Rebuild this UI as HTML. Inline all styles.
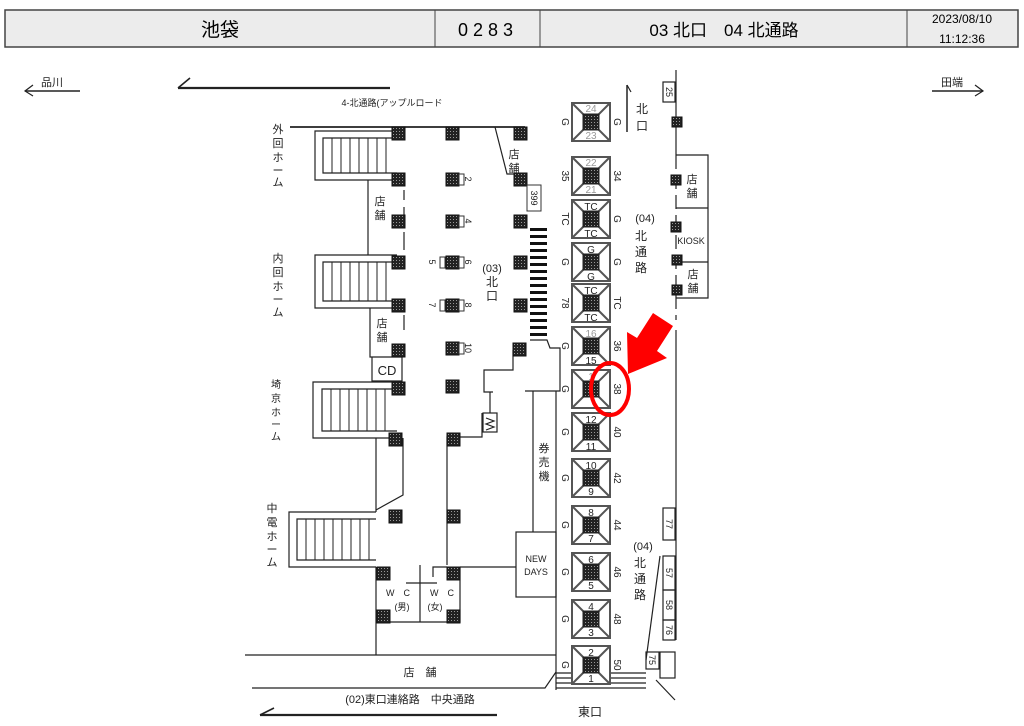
<!DOCTYPE html>
<html><head><meta charset="utf-8"><style>
html,body{margin:0;padding:0;background:#fff;}
svg{display:block;font-family:"Liberation Sans","Noto Sans CJK JP",sans-serif;}
</style></head><body>
<svg width="1024" height="726" viewBox="0 0 1024 726" xmlns="http://www.w3.org/2000/svg">
<defs>
<pattern id="dots" width="3" height="3" patternUnits="userSpaceOnUse">
<rect width="3" height="3" fill="#222"/><rect x="1" y="1" width="1" height="1" fill="#999"/>
</pattern>
<g id="t"><rect width="13" height="13" fill="url(#dots)" stroke="#111" stroke-width="1"/></g>
<g id="ts"><rect width="10" height="10" fill="url(#dots)" stroke="#111" stroke-width="1"/></g>
<g id="esc">
<rect x="0" y="0" width="38" height="38" fill="#fff" stroke="#555" stroke-width="2"/>
<line x1="0" y1="0" x2="38" y2="38" stroke="#555" stroke-width="2"/>
<line x1="38" y1="0" x2="0" y2="38" stroke="#555" stroke-width="2"/>
<rect x="11" y="11" width="16" height="16" fill="url(#dots)" stroke="#222"/>
</g>
</defs>

<rect x="5" y="10" width="1013" height="37" fill="#ececec" stroke="#444" stroke-width="1.5"/>
<line x1="435" y1="10" x2="435" y2="47" stroke="#444"/>
<line x1="540" y1="10" x2="540" y2="47" stroke="#444"/>
<line x1="907" y1="10" x2="907" y2="47" stroke="#444"/>
<text x="220" y="36" font-size="19" text-anchor="middle">池袋</text>
<text x="488" y="36" font-size="18" text-anchor="middle" letter-spacing="5">0283</text>
<text x="724" y="36" font-size="17" text-anchor="middle">03 北口　04 北通路</text>
<text x="962" y="23" font-size="12" text-anchor="middle">2023/08/10</text>
<text x="962" y="43" font-size="12" text-anchor="middle">11:12:36</text>

<g stroke="#222" fill="none" stroke-width="1.2">
<line x1="25" y1="91" x2="80" y2="91" stroke-width="1.6"/><polyline points="33,85 25,91 33,96"/>
<line x1="932" y1="91" x2="983" y2="91" stroke-width="1.6"/><polyline points="975,85 983,91 975,96"/>
<line x1="178" y1="88" x2="390" y2="88" stroke-width="2.2"/><line x1="178" y1="88" x2="190" y2="78" stroke-width="1.6"/>
<line x1="260" y1="715" x2="497" y2="715" stroke-width="2.2"/><line x1="260" y1="715" x2="274" y2="708" stroke-width="1.6"/>

<line x1="290" y1="127" x2="525" y2="127" stroke-width="1.8"/>
<polyline points="495,127 507,174 522,174"/>

<polyline points="397,131 315,131 315,180 397,180"/>
<polyline points="397,138 323,138 323,173 397,173"/>
<polyline points="397,255 315,255 315,308 397,308"/>
<polyline points="397,262 323,262 323,301 397,301"/>
<polyline points="397,382 313,382 313,438 397,438"/>
<polyline points="397,389 322,389 322,431 397,431"/>
<polyline points="376,512 289,512 289,567 376,567"/>
<polyline points="376,519 297,519 297,560 376,560"/>
</g>
<g stroke="#222" stroke-width="1">
<path d="M332 138V173M341 138V173M350 138V173M359 138V173M368 138V173M377 138V173M386 138V173"/>
<path d="M332 262V301M341 262V301M350 262V301M359 262V301M368 262V301M377 262V301M386 262V301"/>
<path d="M331 389V431M340 389V431M349 389V431M358 389V431M367 389V431M376 389V431M385 389V431"/>
<path d="M306 519V560M315 519V560M324 519V560M333 519V560M342 519V560M351 519V560M360 519V560M369 519V560"/>
</g>
<g stroke="#222" fill="none" stroke-width="1.2">
<line x1="368" y1="180" x2="368" y2="255"/>
<polyline points="370,308 370,357 402,357 402,381 372,381 372,357"/>
<path d="M404 190V200M404 207V225M404 232V250"/>
<path d="M404 315V330"/>
<polyline points="403,438 403,495 376,510"/>
<line x1="376" y1="438" x2="376" y2="512"/>
<line x1="376" y1="567" x2="376" y2="655"/>
<polyline points="376,622 460,622 460,567"/>
<line x1="420" y1="565" x2="420" y2="622"/>
<line x1="406" y1="583" x2="437" y2="583"/>
<polyline points="433,577 433,567 447,567"/>
<polyline points="447,565 447,437 482,437 482,413"/>
<line x1="460" y1="567" x2="516" y2="567"/>
<polyline points="513,350 513,370 484,370 484,392 493,392"/>
<line x1="490" y1="392" x2="490" y2="413"/>
<rect x="483" y="413" width="14" height="19"/>
<path d="M486 418l8 3-8 3 8 3-8 3"/>
<polyline points="530,340 547,340 550,348 560,348 560,391 525,391"/>
<line x1="533" y1="391" x2="533" y2="532"/>
<rect x="516" y="532" width="40" height="65"/>
<line x1="556" y1="391" x2="556" y2="690"/>
<line x1="627" y1="85" x2="627" y2="132" stroke-width="1.5"/><line x1="627" y1="85" x2="631" y2="92"/>
<line x1="676" y1="70" x2="676" y2="155"/>
<line x1="676" y1="155" x2="676" y2="320" stroke-dasharray="14,6"/>
<line x1="676" y1="330" x2="676" y2="640"/>
<polyline points="676,155 708,155 708,298 676,298"/>
<line x1="676" y1="208" x2="708" y2="208"/>
<line x1="676" y1="262" x2="708" y2="262"/>
<rect x="663" y="82" width="12" height="20" />
<rect x="663" y="508" width="12" height="32"/>
<rect x="663" y="556" width="12" height="34"/>
<rect x="663" y="590" width="12" height="30"/>
<rect x="663" y="620" width="12" height="20"/>
<line x1="660" y1="556" x2="646" y2="660"/>
<rect x="646" y="652" width="13" height="17"/>
<rect x="660" y="652" width="15" height="26"/>
<line x1="656" y1="680" x2="675" y2="700"/>
<line x1="245" y1="655" x2="556" y2="655"/>
<polyline points="252,688 545,688 556,672"/>
<path d="M556 673H646M556 678H646M556 683H646M556 688H646"/>
</g>

<g fill="#111">
<rect x="530" y="228" width="17" height="3"/><rect x="530" y="235" width="17" height="3"/><rect x="530" y="242" width="17" height="3"/><rect x="530" y="249" width="17" height="3"/><rect x="530" y="256" width="17" height="3"/><rect x="530" y="263" width="17" height="3"/><rect x="530" y="270" width="17" height="3"/><rect x="530" y="277" width="17" height="3"/><rect x="530" y="284" width="17" height="3"/><rect x="530" y="291" width="17" height="3"/><rect x="530" y="298" width="17" height="3"/><rect x="530" y="305" width="17" height="3"/><rect x="530" y="312" width="17" height="3"/><rect x="530" y="319" width="17" height="3"/><rect x="530" y="326" width="17" height="3"/><rect x="530" y="333" width="17" height="3"/>
</g>

<use href="#t" x="392" y="127"/><use href="#t" x="392" y="173"/><use href="#t" x="392" y="215"/><use href="#t" x="392" y="256"/><use href="#t" x="392" y="299"/><use href="#t" x="392" y="344"/><use href="#t" x="392" y="382"/><use href="#t" x="389" y="433"/><use href="#t" x="389" y="510"/>
<use href="#t" x="377" y="567"/><use href="#t" x="377" y="610"/><use href="#t" x="447" y="567"/><use href="#t" x="447" y="610"/><use href="#t" x="447" y="433"/><use href="#t" x="447" y="510"/>
<use href="#t" x="446" y="127"/><use href="#t" x="446" y="173"/><use href="#t" x="446" y="215"/><use href="#t" x="446" y="256"/><use href="#t" x="446" y="299"/><use href="#t" x="446" y="342"/><use href="#t" x="446" y="380"/>
<use href="#t" x="514" y="127"/><use href="#t" x="514" y="173"/><use href="#t" x="514" y="215"/><use href="#t" x="514" y="256"/><use href="#t" x="514" y="299"/><use href="#t" x="513" y="343"/>
<use href="#ts" x="672" y="117"/><use href="#ts" x="671" y="175"/><use href="#ts" x="671" y="222"/><use href="#ts" x="672" y="255"/><use href="#ts" x="672" y="285"/>
<g fill="#fff" stroke="#333">
<rect x="459" y="174" width="5" height="11"/><rect x="459" y="216" width="5" height="11"/><rect x="459" y="257" width="5" height="11"/><rect x="440" y="257" width="5" height="11"/><rect x="459" y="300" width="5" height="11"/><rect x="440" y="300" width="5" height="11"/><rect x="459" y="343" width="5" height="11"/>
<rect x="527" y="185" width="14" height="26"/>
</g>

<use href="#esc" x="572" y="103"/><use href="#esc" x="572" y="157"/><use href="#esc" x="572" y="200"/><use href="#esc" x="572" y="243"/><use href="#esc" x="572" y="284"/><use href="#esc" x="572" y="327"/><use href="#esc" x="572" y="370"/><use href="#esc" x="572" y="413"/><use href="#esc" x="572" y="459"/><use href="#esc" x="572" y="506"/><use href="#esc" x="572" y="553"/><use href="#esc" x="572" y="600"/><use href="#esc" x="572" y="646"/>

<g font-size="10" text-anchor="middle" fill="#222">
<text x="591" y="112" fill="#999">24</text><text x="591" y="139" fill="#999">23</text>
<text x="591" y="166" fill="#999">22</text><text x="591" y="193" fill="#999">21</text>
<text x="591" y="210">TC</text><text x="591" y="237">TC</text>
<text x="591" y="253">G</text><text x="591" y="280">G</text>
<text x="591" y="294">TC</text><text x="591" y="321">TC</text>
<text x="591" y="337" fill="#999">16</text><text x="591" y="364">15</text>
<text x="591" y="380" fill="#999">1</text>
<text x="591" y="423">12</text><text x="591" y="450">11</text>
<text x="591" y="469">10</text><text x="591" y="495">9</text>
<text x="591" y="516">8</text><text x="591" y="542">7</text>
<text x="591" y="563">6</text><text x="591" y="589">5</text>
<text x="591" y="610">4</text><text x="591" y="636">3</text>
<text x="591" y="656">2</text><text x="591" y="682">1</text>
</g>
<g font-size="10" fill="#222">
<text transform="translate(562,122) rotate(90)" text-anchor="middle">G</text><text transform="translate(614,122) rotate(90)" text-anchor="middle">G</text>
<text transform="translate(562,176) rotate(90)" text-anchor="middle">35</text><text transform="translate(614,176) rotate(90)" text-anchor="middle">34</text>
<text transform="translate(562,219) rotate(90)" text-anchor="middle">TC</text><text transform="translate(614,219) rotate(90)" text-anchor="middle">G</text>
<text transform="translate(562,262) rotate(90)" text-anchor="middle">G</text><text transform="translate(614,262) rotate(90)" text-anchor="middle">G</text>
<text transform="translate(562,303) rotate(90)" text-anchor="middle">78</text><text transform="translate(614,303) rotate(90)" text-anchor="middle">TC</text>
<text transform="translate(562,346) rotate(90)" text-anchor="middle">G</text><text transform="translate(614,346) rotate(90)" text-anchor="middle">36</text>
<text transform="translate(562,389) rotate(90)" text-anchor="middle">G</text><text transform="translate(614,389) rotate(90)" text-anchor="middle">38</text>
<text transform="translate(562,432) rotate(90)" text-anchor="middle">G</text><text transform="translate(614,432) rotate(90)" text-anchor="middle">40</text>
<text transform="translate(562,478) rotate(90)" text-anchor="middle">G</text><text transform="translate(614,478) rotate(90)" text-anchor="middle">42</text>
<text transform="translate(562,525) rotate(90)" text-anchor="middle">G</text><text transform="translate(614,525) rotate(90)" text-anchor="middle">44</text>
<text transform="translate(562,572) rotate(90)" text-anchor="middle">G</text><text transform="translate(614,572) rotate(90)" text-anchor="middle">46</text>
<text transform="translate(562,619) rotate(90)" text-anchor="middle">G</text><text transform="translate(614,619) rotate(90)" text-anchor="middle">48</text>
<text transform="translate(562,665) rotate(90)" text-anchor="middle">G</text><text transform="translate(614,665) rotate(90)" text-anchor="middle">50</text>
<text transform="translate(465,179) rotate(90)" text-anchor="middle" font-size="9">2</text>
<text transform="translate(465,221) rotate(90)" text-anchor="middle" font-size="9">4</text>
<text transform="translate(465,262) rotate(90)" text-anchor="middle" font-size="9">6</text>
<text transform="translate(429,262) rotate(90)" text-anchor="middle" font-size="9">5</text>
<text transform="translate(465,305) rotate(90)" text-anchor="middle" font-size="9">8</text>
<text transform="translate(429,305) rotate(90)" text-anchor="middle" font-size="9">7</text>
<text transform="translate(465,348) rotate(90)" text-anchor="middle" font-size="9">10</text>
<text transform="translate(531,198) rotate(90)" text-anchor="middle" font-size="9">399</text>
<text transform="translate(666,92) rotate(90)" text-anchor="middle" font-size="9">25</text>
<text transform="translate(666,524) rotate(90)" text-anchor="middle" font-size="9">77</text>
<text transform="translate(666,573) rotate(90)" text-anchor="middle" font-size="9">57</text>
<text transform="translate(666,605) rotate(90)" text-anchor="middle" font-size="9">58</text>
<text transform="translate(666,630) rotate(90)" text-anchor="middle" font-size="9">76</text>
<text transform="translate(649,660) rotate(90)" text-anchor="middle" font-size="9">75</text>
</g>

<g font-size="11" text-anchor="middle" fill="#222">
<text x="52" y="86">品川</text><text x="952" y="86">田端</text>
<text x="392" y="106" font-size="9">4-北通路(アップルロード</text>
<text x="278" y="133">外</text><text x="278" y="147">回</text><text x="278" y="161">ホ</text><text x="278" y="174">ー</text><text x="278" y="186">ム</text>
<text x="278" y="262">内</text><text x="278" y="276">回</text><text x="278" y="290">ホ</text><text x="278" y="303">ー</text><text x="278" y="316">ム</text>
<text x="276" y="388" font-size="10">埼</text><text x="276" y="402" font-size="10">京</text><text x="276" y="416" font-size="10">ホ</text><text x="276" y="428" font-size="10">ー</text><text x="276" y="440" font-size="10">ム</text>
<text x="272" y="512">中</text><text x="272" y="526">電</text><text x="272" y="540">ホ</text><text x="272" y="553">ー</text><text x="272" y="566">ム</text>
<text x="380" y="205">店</text><text x="380" y="219">舗</text>
<text x="382" y="327">店</text><text x="382" y="341">舗</text>
<text x="387" y="375" font-size="13">CD</text>
<text x="514" y="158">店</text><text x="514" y="172">舗</text>
<text x="492" y="272">(03)</text><text x="492" y="286" font-size="12">北</text><text x="492" y="300" font-size="12">口</text>
<text x="642" y="113" font-size="12">北</text><text x="642" y="130" font-size="12">口</text>
<text x="645" y="222">(04)</text><text x="641" y="240" font-size="12">北</text><text x="641" y="256" font-size="12">通</text><text x="641" y="272" font-size="12">路</text>
<text x="643" y="550">(04)</text><text x="640" y="567" font-size="12">北</text><text x="640" y="583" font-size="12">通</text><text x="640" y="599" font-size="12">路</text>
<text x="692" y="183">店</text><text x="692" y="197">舗</text>
<text x="691" y="244" font-size="9">KIOSK</text>
<text x="693" y="278">店</text><text x="693" y="292">舗</text>
<text x="544" y="452">券</text><text x="544" y="466">売</text><text x="544" y="480">機</text>
<text x="536" y="562" font-size="9">NEW</text><text x="536" y="575" font-size="9">DAYS</text>
<text x="398" y="596" font-size="9">W　C</text><text x="402" y="610" font-size="9">(男)</text>
<text x="442" y="596" font-size="9">W　C</text><text x="435" y="610" font-size="9">(女)</text>
<text x="420" y="676">店　舗</text>
<text x="410" y="703">(02)東口連絡路　中央通路</text>
<text x="590" y="716" font-size="12">東口</text>
</g>

<polygon points="653,313 673,326 657,351 667,358 628,374 627,332 637,338" fill="#f00"/>
<ellipse cx="610" cy="389" rx="19" ry="26" fill="none" stroke="#f00" stroke-width="4"/>
</svg>
</body></html>
